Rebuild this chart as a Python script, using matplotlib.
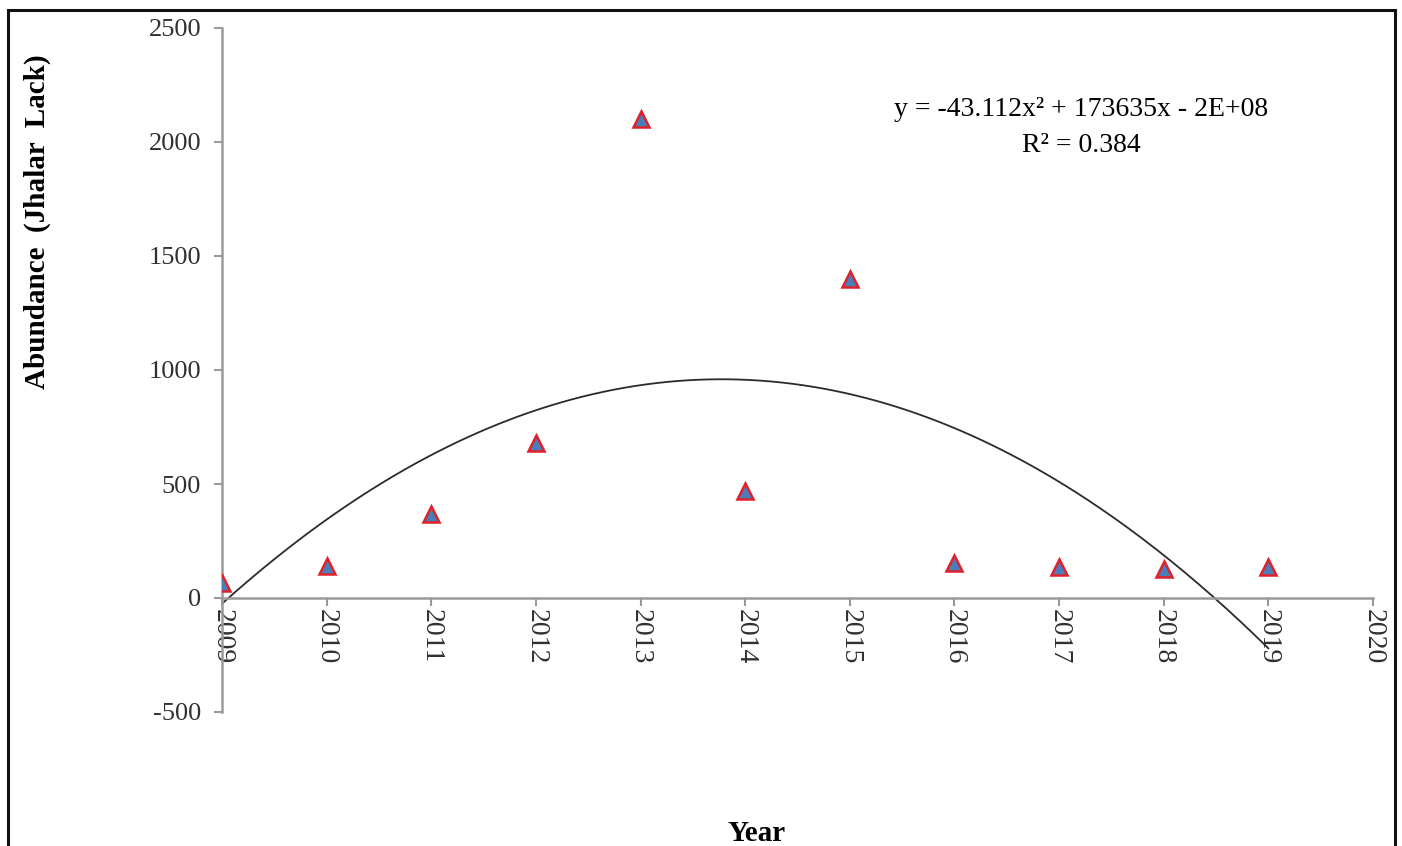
import matplotlib
matplotlib.use('Agg')
import matplotlib.pyplot as plt
import numpy as np
from matplotlib.patches import Rectangle

plt.rcParams['font.family'] = ['Liberation Serif', 'DejaVu Serif']

years = [2009, 2010, 2011, 2012, 2013, 2014, 2015, 2016, 2017, 2018, 2019]
abundance = [66, 140, 368, 680, 2100, 470, 1400, 153, 136, 127, 136]
x_ticks = list(range(2009, 2021))
y_ticks = [-500, 0, 500, 1000, 1500, 2000, 2500]
equation = 'y = -43.112x² + 173635x - 2E+08'
r_squared = 'R² = 0.384'

yrs = np.array(years, dtype=float)
ab = np.array(abundance, dtype=float)

# polynomial (order 2) trend, shifted years for a stable fit
coef = np.polyfit(yrs - 2009, ab, 2)
xs = np.linspace(2009, 2019, 300)
ys = np.polyval(coef, xs - 2009)

fig = plt.figure(figsize=(14.02, 8.46), dpi=100)
ax = fig.add_axes([222 / 1402, 1 - 712 / 846, (1373 - 222) / 1402, (712 - 28) / 846])

ax.plot(xs, ys, color='#2b2b2b', lw=1.3, zorder=2)
ax.plot(yrs, ab, linestyle='none', marker='^', markersize=12,
        markerfacecolor='#4a7ebb', markeredgecolor='#e0202a', markeredgewidth=1.8, zorder=3)

ax.spines['top'].set_visible(False)
ax.spines['right'].set_visible(False)
ax.spines['bottom'].set_position(('data', 0))
for s in ('left', 'bottom'):
    ax.spines[s].set_color('#9a9a9a')
    ax.spines[s].set_linewidth(1.8)
ax.tick_params(axis='both', direction='out', length=6, width=1.5, color='#9a9a9a',
               labelcolor='#303030')
ax.tick_params(axis='y', pad=9, labelsize=19)
ax.tick_params(axis='x', pad=2, labelsize=20)

ax.set_xlim(2009, 2020)
ax.set_ylim(-500, 2500)
ax.set_xticks(x_ticks)
ax.set_xticklabels([str(t) for t in x_ticks])
ax.set_yticks(y_ticks)
ax.set_yticklabels([str(t) for t in y_ticks])
plt.setp(ax.get_xticklabels(), rotation=270, ha='center', va='top')

fig.text(1081 / 1402, 1 - 110 / 846, equation, ha='center', va='center', fontsize=20)
fig.text(1081 / 1402, 1 - 145 / 846, r_squared, ha='center', va='center', fontsize=20)

fig.text(37 / 1402, 1 - 222 / 846, 'Abundance  (Jhalar  Lack)', rotation=90,
         ha='center', va='center', fontsize=21, fontweight='bold')
fig.text(757 / 1402, 1 - 833 / 846, 'Year', ha='center', va='center',
         fontsize=21, fontweight='bold')

# outer frame around the chart area
fig.patches.append(Rectangle((8 / 1402, -0.05), (1395 - 8) / 1402, 1.05 - 10 / 846,
                             transform=fig.transFigure, fill=False, edgecolor='#111111',
                             linewidth=2.2, clip_on=False))

fig.savefig('out.png', dpi=100)
